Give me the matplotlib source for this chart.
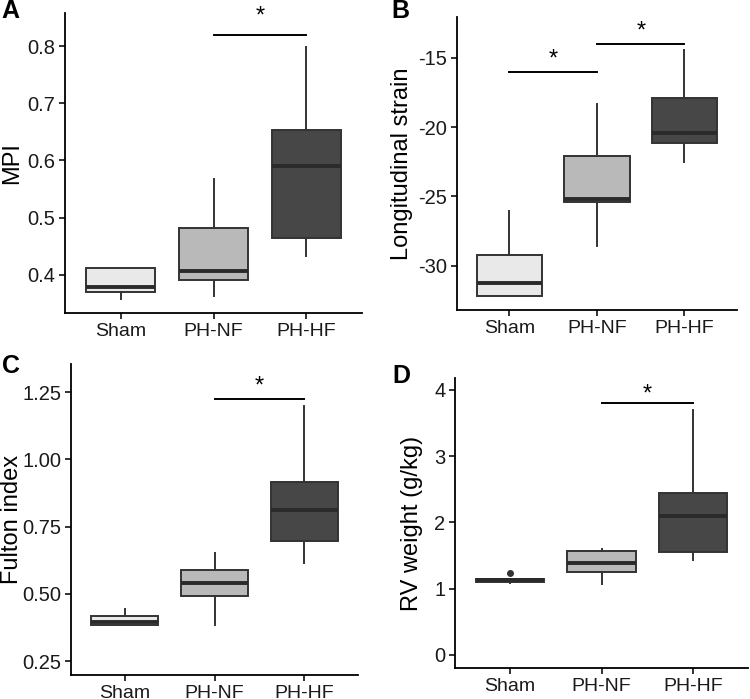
import numpy as np
import matplotlib
matplotlib.use("Agg")
import matplotlib.pyplot as plt

plt.rcParams['font.family'] = ['Liberation Sans', 'DejaVu Sans']

groups = ["Sham", "PH-NF", "PH-HF"]
fills = ["#e9e9e9", "#b9b9b9", "#474747"]

# box stats per panel: whislo, q1, med, q3, whishi, outliers
mpi_lo = [0.357, 0.362, 0.432]
mpi_q1 = [0.370, 0.390, 0.465]
mpi_med = [0.378, 0.407, 0.591]
mpi_q3 = [0.411, 0.481, 0.654]
mpi_hi = [0.411, 0.568, 0.798]

ls_lo = [-32.16, -28.56, -22.49]
ls_q1 = [-32.16, -25.44, -21.12]
ls_med = [-31.22, -25.20, -20.40]
ls_q3 = [-29.21, -22.06, -17.93]
ls_hi = [-26.06, -18.31, -14.47]

fi_lo = [0.383, 0.383, 0.616]
fi_q1 = [0.383, 0.492, 0.698]
fi_med = [0.396, 0.539, 0.812]
fi_q3 = [0.419, 0.589, 0.917]
fi_hi = [0.442, 0.653, 1.197]

rv_lo = [1.08, 1.072, 1.434]
rv_q1 = [1.10, 1.253, 1.550]
rv_med = [1.125, 1.384, 2.103]
rv_q3 = [1.15, 1.570, 2.445]
rv_hi = [1.15, 1.595, 3.698]
rv_out = [[1.238], [], []]

panels = [
    # letter, ylabel, stats, ylim, yticks, ticklabels, sig bars (x1, x2, y, star y),
    # axes rect px (l, t, r, b), ylabel centre x px
    ("A", "MPI", (mpi_lo, mpi_q1, mpi_med, mpi_q3, mpi_hi, [[], [], []]),
     (0.333, 0.858), [0.4, 0.5, 0.6, 0.7, 0.8], ["0.4", "0.5", "0.6", "0.7", "0.8"],
     [(2, 3, 0.820, 0.851)], (65, 13, 362, 313), 12),
    ("B", "Longitudinal strain", (ls_lo, ls_q1, ls_med, ls_q3, ls_hi, [[], [], []]),
     (-33.19, -12.07), [-30, -25, -20, -15], ["-30", "-25", "-20", "-15"],
     [(1, 2, -16.03, -15.1), (2, 3, -14.02, -13.1)], (457, 17, 737, 310), 402),
    ("C", "Fulton index", (fi_lo, fi_q1, fi_med, fi_q3, fi_hi, [[], [], []]),
     (0.198, 1.355), [0.25, 0.5, 0.75, 1.0, 1.25], ["0.25", "0.50", "0.75", "1.00", "1.25"],
     [(2, 3, 1.223, 1.27)], (71, 364, 358, 675), 12),
    ("D", "RV weight (g/kg)", (rv_lo, rv_q1, rv_med, rv_q3, rv_hi, rv_out),
     (-0.2, 4.18), [0, 1, 2, 3, 4], ["0", "1", "2", "3", "4"],
     [(2, 3, 3.80, 3.93)], (455, 378, 748, 668), 412),
]

W, H = 750, 699
fig = plt.figure(figsize=(W / 100, H / 100), dpi=100)

letter_pos = {"A": (1, 18), "B": (391, 18), "C": (2, 373), "D": (392, 383)}

for letter, ylabel, st, ylim, yt, ytl, sigs, rect, labx in panels:
    l, t, r, b = rect
    ax = fig.add_axes([l / W, 1 - b / H, (r - l) / W, (b - t) / H])
    lo, q1, med, q3, hi, out = st
    stats = []
    for i in range(3):
        stats.append(dict(whislo=lo[i], q1=q1[i], med=med[i], q3=q3[i],
                          whishi=hi[i], fliers=out[i]))
    bp = ax.bxp(stats, positions=[1, 2, 3], widths=0.75, patch_artist=True,
                showcaps=False,
                boxprops=dict(edgecolor="#333333", linewidth=1.4),
                whiskerprops=dict(color="#333333", linewidth=1.4),
                medianprops=dict(color="#2a2a2a", linewidth=2.8, solid_capstyle="butt"),
                flierprops=dict(marker="o", markerfacecolor="#333333",
                                markeredgecolor="#333333", markersize=4))
    for patch, c in zip(bp["boxes"], fills):
        patch.set_facecolor(c)
    for x1, x2, y, ys in sigs:
        ax.plot([x1, x2], [y, y], color="black", linewidth=1.4)
        ax.text((x1 + x2) / 2, ys, "*", ha="center", va="center", fontsize=17)
    ax.set_xlim(0.4, 3.6)
    ax.set_ylim(*ylim)
    ax.set_xticks([1, 2, 3])
    ax.set_xticklabels(groups, fontsize=14)
    ax.set_yticks(yt)
    ax.set_yticklabels(ytl, fontsize=14.5)
    ax.set_ylabel(ylabel, fontsize=17, va="center")
    ax.yaxis.set_label_coords((labx - l) / (r - l), 0.5)
    for s in ["top", "right"]:
        ax.spines[s].set_visible(False)
    for s in ["left", "bottom"]:
        ax.spines[s].set_linewidth(1.3)
    ax.tick_params(direction="out", length=4, width=1.3, color="#222222", labelcolor="#1a1a1a", pad=3)
    lx, ly = letter_pos[letter]
    fig.text(lx / W, 1 - ly / H, letter, fontsize=18, fontweight="bold", ha="left", va="baseline")

fig.savefig("out.png", dpi=100)
